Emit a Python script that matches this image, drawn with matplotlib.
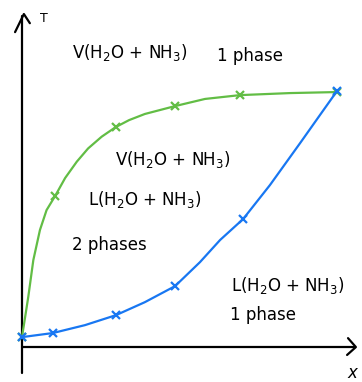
import matplotlib
matplotlib.use("Agg")
import matplotlib.pyplot as plt

# Dew curve (vapour side) and bubble curve (liquid side), x = NH3 fraction, T scaled to 0..1
dew_x = [0.0, 0.020, 0.036, 0.057, 0.078, 0.105, 0.137, 0.174, 0.210, 0.253, 0.298,
         0.340, 0.390, 0.486, 0.581, 0.692, 0.851, 1.0]
dew_T = [0.039, 0.197, 0.341, 0.459, 0.537, 0.592, 0.663, 0.727, 0.779, 0.825, 0.863,
         0.890, 0.914, 0.945, 0.973, 0.988, 0.996, 1.0]
dew_mark_x = [0.0, 0.105, 0.298, 0.486, 0.692, 1.0]
dew_mark_T = [0.039, 0.592, 0.863, 0.945, 0.988, 1.0]

bub_x = [0.0, 0.098, 0.200, 0.298, 0.390, 0.486, 0.565, 0.629, 0.702, 0.787, 0.883, 0.946, 1.0]
bub_T = [0.039, 0.055, 0.086, 0.125, 0.176, 0.239, 0.333, 0.420, 0.502, 0.635, 0.800, 0.910, 1.004]
bub_mark_x = [0.0, 0.098, 0.298, 0.486, 0.702, 1.0]
bub_mark_T = [0.039, 0.055, 0.125, 0.239, 0.502, 1.004]

GREEN = "#62bd45"
BLUE = "#1877f2"

fig = plt.figure(figsize=(3.62, 3.82), dpi=100)
ax = fig.add_axes([0, 0, 1, 1])
ax.set_xlim(-0.0698, 1.0794)
ax.set_ylim(-0.137, 1.361)
ax.axis("off")

# hand-drawn style axes
ax.plot([0, 0], [-0.10, 1.30], color="black", lw=1.6, solid_capstyle="round")
ax.plot([-0.022, 0.006, 0.025], [1.235, 1.306, 1.27], color="black", lw=1.6,
        solid_capstyle="round", solid_joinstyle="round")
ax.plot([0, 1.057], [0, 0], color="black", lw=1.6, solid_capstyle="round")
ax.plot([1.035, 1.060, 1.032], [0.035, 0.0, -0.031], color="black", lw=1.6,
        solid_capstyle="round", solid_joinstyle="round")
ax.text(0.07, 1.29, "T", fontsize=9, ha="center", va="center")
ax.text(1.05, -0.103, "x", fontsize=12, style="italic", ha="center", va="center")

ax.plot(dew_x, dew_T, color=GREEN, lw=1.6, solid_joinstyle="round")
ax.plot(dew_mark_x, dew_mark_T, "x", color=GREEN, ms=6, mew=1.6)
ax.plot(bub_x, bub_T, color=BLUE, lw=1.6, solid_joinstyle="round")
ax.plot(bub_mark_x, bub_mark_T, "x", color=BLUE, ms=6, mew=1.6)

txt = dict(fontsize=12, ha="left", va="center")
ax.text(0.16, 1.157, "V(H$_2$O + NH$_3$)", **txt)
ax.text(0.62, 1.14, "1 phase", **txt)
ax.text(0.295, 0.737, "V(H$_2$O + NH$_3$)", **txt)
ax.text(0.21, 0.578, "L(H$_2$O + NH$_3$)", **txt)
ax.text(0.16, 0.40, "2 phases", **txt)
ax.text(0.665, 0.243, "L(H$_2$O + NH$_3$)", **txt)
ax.text(0.66, 0.125, "1 phase", **txt)

fig.savefig("out.png", dpi=100)
